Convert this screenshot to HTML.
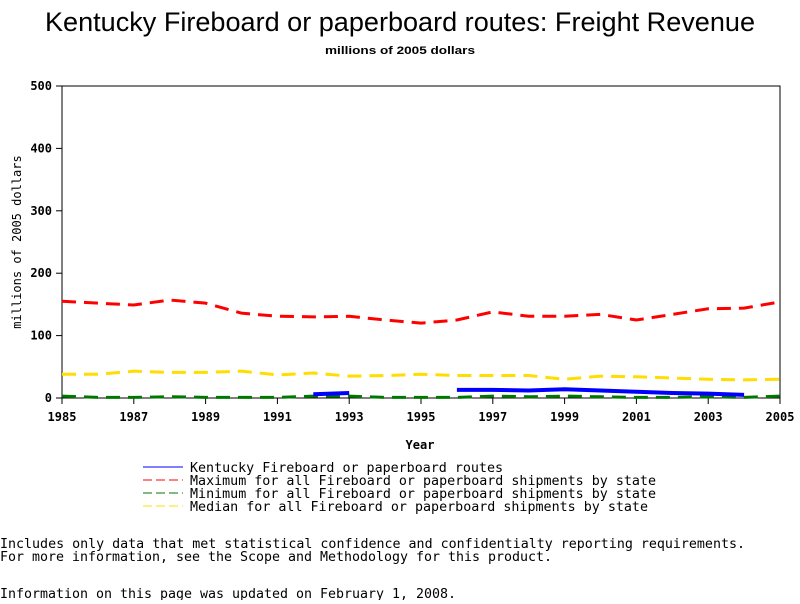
<!DOCTYPE html>
<html><head><meta charset="utf-8"><style>
body{margin:0;background:#fff;width:800px;height:600px;overflow:hidden;font-family:"DejaVu Sans Mono","Liberation Mono",monospace}
svg text{fill:#000}
</style></head><body>
<svg width="800" height="600" xmlns="http://www.w3.org/2000/svg">
<text x="400" y="31" text-anchor="middle" font-family="Liberation Sans, sans-serif" font-size="27" textLength="710" lengthAdjust="spacingAndGlyphs">Kentucky Fireboard or paperboard routes: Freight Revenue</text>
<text x="400" y="54" text-anchor="middle" font-family="Liberation Sans, sans-serif" font-size="11" font-weight="bold" textLength="150" lengthAdjust="spacingAndGlyphs">millions of 2005 dollars</text>
<rect x="62" y="86" width="718" height="312" fill="none" stroke="#000"/>
<g id="axes" font-size="12" font-weight="bold"></g>
<g id="series"></g>
<text x="420" y="449" text-anchor="middle" font-size="12" font-weight="bold">Year</text>
<text transform="translate(21,242) rotate(-90)" text-anchor="middle" font-size="12">millions of 2005 dollars</text>
<g font-size="13">
<line x1="143" y1="467" x2="183" y2="467" stroke="#00f"/>
<text x="190" y="472" textLength="313" lengthAdjust="spacingAndGlyphs">Kentucky Fireboard or paperboard routes</text>
<line x1="143" y1="480" x2="183" y2="480" stroke="#f00" stroke-dasharray="9,4"/>
<text x="190" y="485" textLength="466" lengthAdjust="spacingAndGlyphs">Maximum for all Fireboard or paperboard shipments by state</text>
<line x1="143" y1="493" x2="183" y2="493" stroke="#070" stroke-dasharray="9,4"/>
<text x="190" y="498" textLength="466" lengthAdjust="spacingAndGlyphs">Minimum for all Fireboard or paperboard shipments by state</text>
<line x1="143" y1="506" x2="183" y2="506" stroke="#fd0" stroke-dasharray="9,4"/>
<text x="190" y="511" textLength="458" lengthAdjust="spacingAndGlyphs">Median for all Fireboard or paperboard shipments by state</text>
</g>
<g font-size="13">
<text x="0" y="548" textLength="745" lengthAdjust="spacingAndGlyphs">Includes only data that met statistical confidence and confidentialty reporting requirements.</text>
<text x="0" y="561" textLength="552" lengthAdjust="spacingAndGlyphs">For more information, see the Scope and Methodology for this product.</text>
<text x="0" y="598" textLength="456" lengthAdjust="spacingAndGlyphs">Information on this page was updated on February 1, 2008.</text>
</g>
</svg>
<script>
const years=[1985,1986,1987,1988,1989,1990,1991,1992,1993,1994,1995,1996,1997,1998,1999,2000,2001,2002,2003,2004,2005];
const maxVals=[155,152,149,157,152,136,131,130,131,125,120,125,138,131,131,134,125,134,143,144,154];
const medVals=[38,38,43,41,41,43,37,40,35,36,38,36,36,36,30,35,34,32,30,29,30];
const minVals=[3,1,1,2,1,1,1,3,3,1,1,1,3,2,3,2,1,1,2,1,3];
const kyVals=[null,null,null,null,null,null,null,6,8,null,null,13,13,12,14,12,10,8,7,5,null];
const xTicks=[1985,1987,1989,1991,1993,1995,1997,1999,2001,2003,2005];
const yTicks=[0,100,200,300,400,500];
const NS='http://www.w3.org/2000/svg';
const x=v=>62+(v-1985)*718/20, y=v=>398-v*312/500;
const ax=document.getElementById('axes'), sg=document.getElementById('series');
function mk(t,a,p){const e=document.createElementNS(NS,t);for(const k in a)e.setAttribute(k,a[k]);p.appendChild(e);return e;}
xTicks.forEach(t=>{
 const l=mk('line',{x1:x(t),x2:x(t),y1:398,y2:404,stroke:'#000'},ax);
 
 
 const tx=mk('text',{x:x(t),y:421,'text-anchor':'middle'},ax);tx.textContent=t;
 
 
});
yTicks.forEach(t=>{
 const l=mk('line',{x1:56,x2:62,y1:y(t),y2:y(t),stroke:'#000'},ax);
 
 
 const tx=mk('text',{x:52,y:y(t)+4,'text-anchor':'end'},ax);tx.textContent=t;
 
 
});
function line(vals,color,dash,w,name){
 let d='',pen=false;
 vals.forEach((v,i)=>{if(v==null){pen=false;return;}d+=(pen?'L':'M')+x(years[i])+' '+y(v)+' ';pen=true;});
 const p=mk('path',{d:d,fill:'none',stroke:color,'stroke-width':w},sg);
 if(dash)p.setAttribute('stroke-dasharray',dash);
 
 
}
line(maxVals,'#f00','14,8',3,'max-line');
line(medVals,'#fd0','14,8',3,'median-line');
line(minVals,'#070','14,8',3,'min-line');
line(kyVals,'#00f',null,4,'kentucky-line');
</script>
</body></html>
